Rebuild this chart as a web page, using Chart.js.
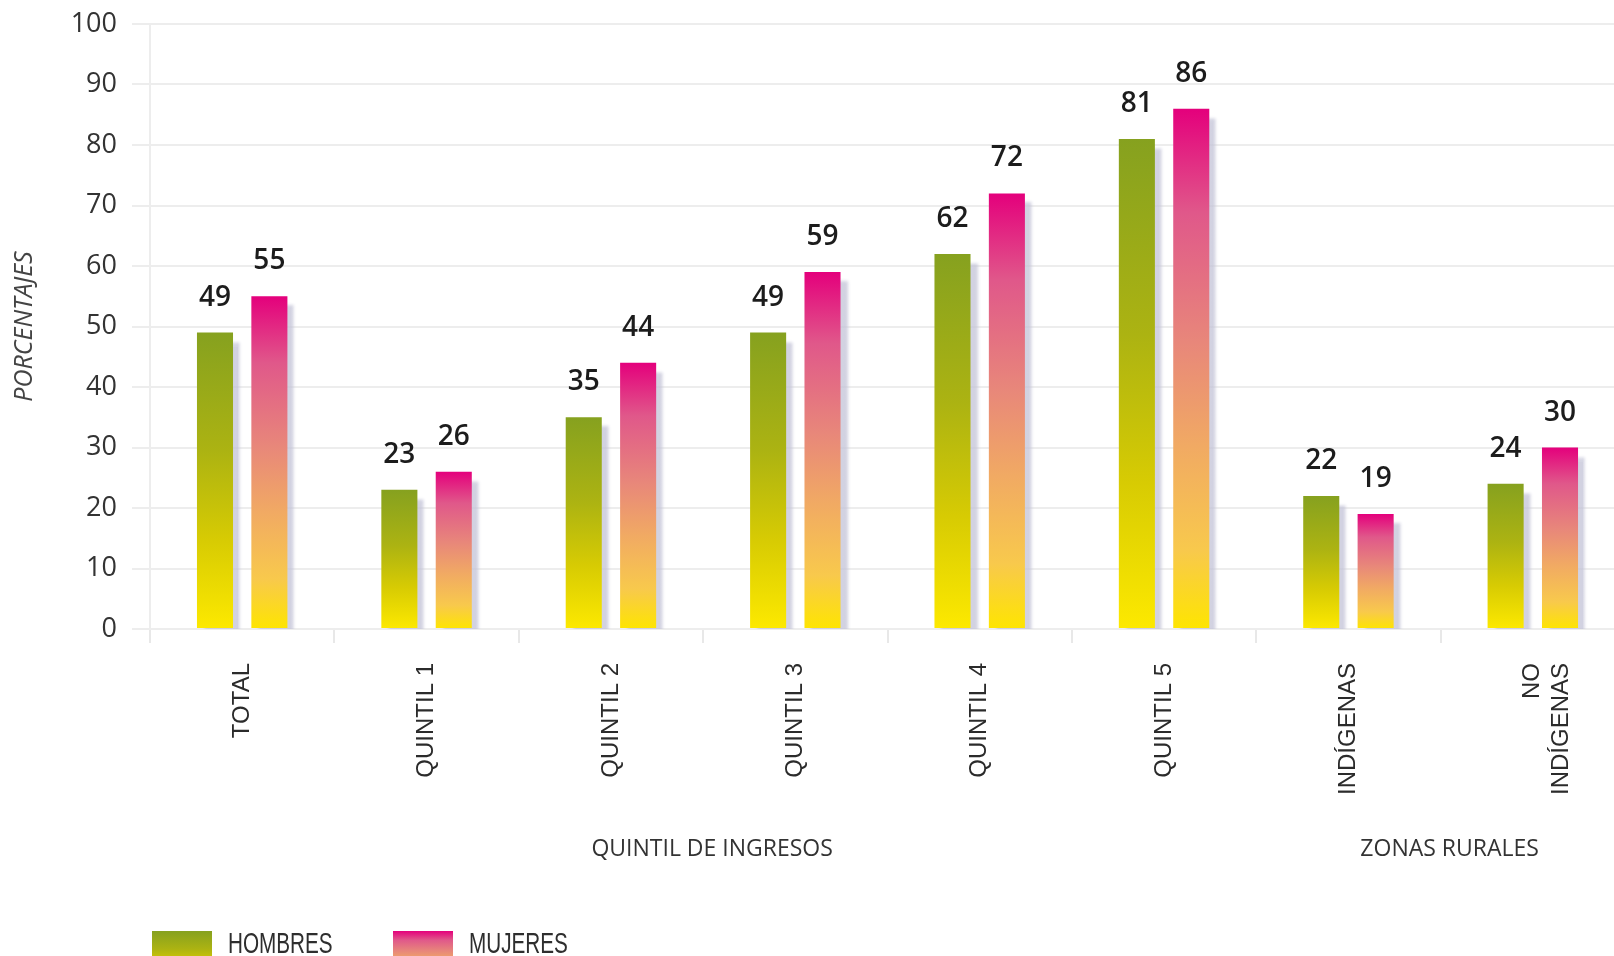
<!DOCTYPE html>
<html><head><meta charset="utf-8">
<script src="https://cdn.jsdelivr.net/npm/chart.js@4.4.1/dist/chart.umd.min.js"></script>
<style>
html,body{margin:0;padding:0;background:#fff;overflow:hidden;width:1614px;height:956px}
#wrap{position:absolute;left:0;top:0;width:1640px;height:980px}
</style>
</head><body><div id="wrap"><canvas id="c" width="1640" height="980"></canvas></div>
<script>
// ---- data ----
const categories = ['TOTAL','QUINTIL 1','QUINTIL 2','QUINTIL 3','QUINTIL 4','QUINTIL 5','INDÍGENAS',['NO','INDÍGENAS']];
const hombres = [49,23,35,49,62,81,22,24];
const mujeres = [55,26,44,59,72,86,19,30];
const seriesNames = ['HOMBRES','MUJERES'];
const yMin = 0, yMax = 100, yStep = 10;
const groupNames = ['QUINTIL DE INGRESOS','ZONAS RURALES'];
const groupFirst = [0,6];
const groupLast = [5,7];

// ---- styles ----
const hombresStops = [[0,'#86a11f'],[0.4,'#acb312'],[0.7,'#d7cb03'],[1,'#fde900']];
const mujeresStops = [[0,'#e4007c'],[0.2,'#e0588a'],[0.45,'#e8877a'],[0.65,'#f1aa63'],[0.85,'#f8c94c'],[1,'#fee500']];

function barGradient(stops){
  return function(ctx){
    const chart = ctx.chart, area = chart.chartArea;
    if (!area || ctx.type !== 'data') return stops[0][1];
    const ys = chart.scales.y;
    const top = ys.getPixelForValue(ctx.raw), bot = ys.getPixelForValue(0);
    if (!isFinite(top) || !isFinite(bot) || top === bot) return stops[0][1];
    const g = chart.ctx.createLinearGradient(0, top, 0, bot);
    stops.forEach(s => g.addColorStop(s[0], s[1]));
    return g;
  };
}

const shadowPlugin = {
  id: 'barShadow',
  beforeDatasetDraw(chart){
    const c = chart.ctx; c.save();
    c.shadowColor = 'rgba(195,195,215,0.75)';
    c.shadowOffsetX = 7; c.shadowOffsetY = 9; c.shadowBlur = 3;
  },
  afterDatasetDraw(chart){ chart.ctx.restore(); }
};

const valueLabels = {
  id: 'valueLabels',
  afterDatasetsDraw(chart){
    const c = chart.ctx; c.save();
    c.font = '600 28px "Open Sans", sans-serif';
    c.fillStyle = '#1c1c1c'; c.textAlign = 'center'; c.textBaseline = 'alphabetic';
    chart.data.datasets.forEach((ds, i) => {
      chart.getDatasetMeta(i).data.forEach((bar, j) => {
        c.fillText(String(ds.data[j]), bar.x, bar.y - 27);
      });
    });
    c.restore();
  }
};

const groupLabels = {
  id: 'groupLabels',
  afterDraw(chart){
    const c = chart.ctx, xs = chart.scales.x; c.save();
    c.font = '23px "Open Sans", sans-serif'; c.fillStyle = '#333';
    c.textAlign = 'center'; c.textBaseline = 'middle';
    groupNames.forEach((g, i) => {
      const x = (xs.getPixelForValue(groupFirst[i]) + xs.getPixelForValue(groupLast[i])) / 2 + 9;
      c.fillText(g, x, 849);
    });
    c.restore();
  }
};

const customLegend = {
  id: 'customLegend',
  afterDraw(chart){
    const c = chart.ctx; c.save();
    const stopsList = [hombresStops, mujeresStops];
    chart.data.datasets.forEach((ds, i) => {
      const bx = 152 + i * 241, by = 931, bw = 60, bh = 28;
      const g = c.createLinearGradient(0, by, 0, by + bh * 1.6);
      stopsList[i].forEach(s => g.addColorStop(s[0], s[1]));
      c.fillStyle = g; c.fillRect(bx, by, bw, bh);
      c.save();
      c.translate(bx + 76, 953);
      c.scale(0.69, 1);
      c.font = '30px "Liberation Sans Narrow", "Liberation Sans", sans-serif';
      c.fillStyle = '#2e2e2e'; c.textAlign = 'left'; c.textBaseline = 'alphabetic';
      c.fillText(ds.label, 0, 0);
      c.restore();
    });
    c.restore();
  }
};

new Chart(document.getElementById('c'), {
  type: 'bar',
  data: {
    labels: categories,
    datasets: [
      { label: seriesNames[0], data: hombres, backgroundColor: barGradient(hombresStops),
        categoryPercentage: 0.59, barPercentage: 0.663, clip: {left:false, top:false, right:false, bottom:0} },
      { label: seriesNames[1], data: mujeres, backgroundColor: barGradient(mujeresStops),
        categoryPercentage: 0.59, barPercentage: 0.663, clip: {left:false, top:false, right:false, bottom:0} }
    ]
  },
  options: {
    responsive: false,
    animation: false,
    events: [],
    layout: { autoPadding: false, padding: { left: 0, top: 24, right: 15, bottom: 0 } },
    plugins: { legend: { display: false }, tooltip: { enabled: false } },
    scales: {
      x: {
        grid: { offset: true, drawOnChartArea: false, drawTicks: true, tickLength: 14, color: '#e8e8e8', lineWidth: 2 },
        border: { display: false },
        ticks: { autoSkip: false, maxRotation: 90, minRotation: 90, padding: 20, color: '#2b2b2b',
                 font: { family: '"Liberation Sans", Arial, sans-serif', size: 24 } },
        afterFit(s){ s.height = 351; }
      },
      y: {
        min: yMin, max: yMax,
        ticks: { stepSize: yStep, padding: 15, color: '#333', font: { family: '"Open Sans", sans-serif', size: 27, lineHeight: 0.6 } },
        grid: { color: '#ededed', lineWidth: 2, tickLength: 18, drawTicks: true },
        border: { display: true, color: '#ededed', width: 2 },
        title: { display: true, text: 'PORCENTAJES', color: '#444',
                 font: { family: '"Open Sans", sans-serif', size: 25, style: 'italic' }, padding: { top: 10, bottom: 0 } },
        afterFit(s){ s.width = 150; }
      }
    }
  },
  plugins: [shadowPlugin, valueLabels, groupLabels, customLegend]
});
</script>
</body></html>
